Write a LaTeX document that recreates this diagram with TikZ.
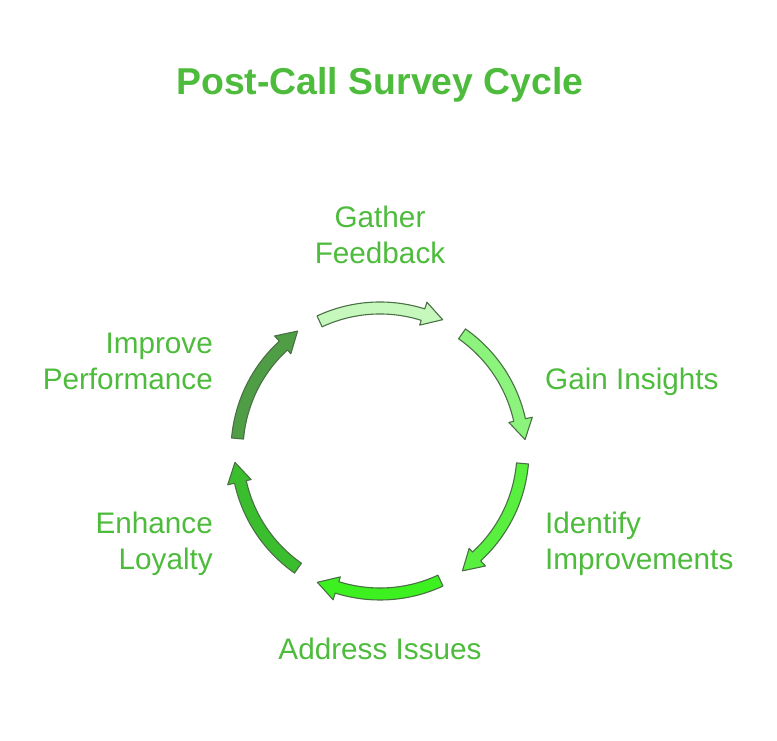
\documentclass[tikz,border=0pt]{standalone}
\usepackage{fontspec}
\setmainfont{Liberation Sans}
\definecolor{txt}{HTML}{4DBB3B}
\definecolor{strk}{HTML}{4A7045}
\definecolor{cA}{HTML}{C6F8BD}
\definecolor{cB}{HTML}{8CF47C}
\definecolor{cC}{HTML}{58EF3E}
\definecolor{cD}{HTML}{3DF01F}
\definecolor{cE}{HTML}{3BBE2D}
\definecolor{cF}{HTML}{4F9E45}
\tikzset{
  lbl/.style={inner sep=0pt, text=txt, font=\fontsize{29.7}{36}\selectfont},
  cyc/.style={draw=strk, line width=1.1pt, line join=round},
}
\newcommand{\cycarrow}[2]{%
  \fill[cyc, fill=#2]
    (#1+25:137) arc[start angle=#1+25, end angle=#1-17.5, radius=137]
    -- (#1-17.5:132) -- (#1-25.5:145.5) -- (#1-17.5:156) -- (#1-17.5:149)
    arc[start angle=#1-17.5, end angle=#1+25, radius=149] -- cycle;}
\begin{document}
\begin{tikzpicture}[x=1pt,y=1pt]
\useasboundingbox (0,0) rectangle (777,741);
\node[text=txt, inner sep=0pt, font=\bfseries\fontsize{37.4}{40}\selectfont] (title) at (380,656) {Post-Call Survey Cycle};
\begin{scope}[shift={(380,290)}]
  \cycarrow{90}{cA}
  \cycarrow{30}{cB}
  \cycarrow{-30}{cC}
  \cycarrow{-90}{cD}
  \cycarrow{-150}{cE}
  \cycarrow{150}{cF}
\end{scope}
\node[lbl, align=center] (gather) at (380,506.5) {Gather\\Feedback};
\node[lbl, anchor=west] (gain) at (545,359) {Gain Insights};
\node[lbl, anchor=west, align=left] (ident) at (545,197.5) {Identify\\Improvements};
\node[lbl] (addr) at (380,92) {Address Issues};
\node[lbl, anchor=east, align=right] (enh) at (213,197.5) {Enhance\\Loyalty};
\node[lbl, anchor=east, align=right] (impr) at (213,380) {Improve\\Performance};
\end{tikzpicture}
\end{document}
